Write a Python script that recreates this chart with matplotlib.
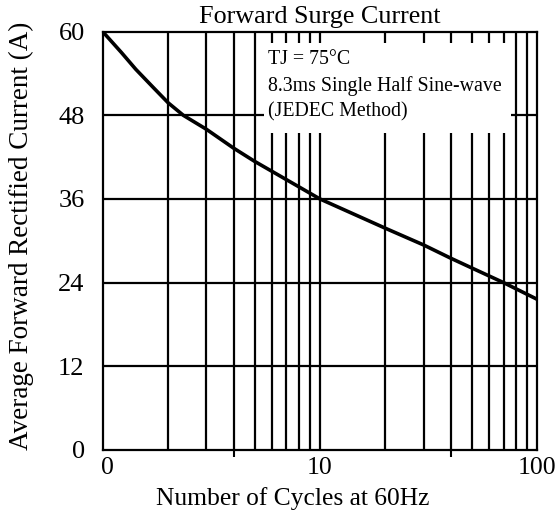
import matplotlib
matplotlib.use("Agg")
import matplotlib.pyplot as plt
import matplotlib.transforms as mtrans
from matplotlib.patches import Rectangle

# Data
cycles = [1, 1.22, 1.42, 1.72, 2, 2.35, 3, 4, 5, 10, 20, 30, 40, 50, 70, 100]
current = [60, 57.0, 54.6, 51.9, 49.8, 48.0, 46.0, 43.3, 41.4, 36.0, 31.8, 29.4, 27.5, 26.1, 24.0, 21.6]

y_ticks = [0, 12, 24, 36, 48, 60]
x_ticks = [1, 10, 100]
x_tick_labels = ["0", "10", "100"]
h_grid = [12, 24, 36, 48]
v_grid = [2, 3, 4, 5, 6, 7, 8, 9, 10, 20, 30, 40, 50, 60, 70, 80, 90]

title = "Forward Surge Current"
xlabel = "Number of Cycles at 60Hz"
ylabel = "Average Forward Rectified Current (A)"
note = "TJ = 75\u00b0C\n8.3ms Single Half Sine-wave\n(JEDEC Method)"

plt.rcParams['font.family'] = ['Liberation Serif', 'DejaVu Serif']

fig = plt.figure(figsize=(5.57, 5.19), dpi=100)
ax = fig.add_axes([0.1844, 0.133, 0.7802, 0.806])

ax.set_xscale('log')
ax.set_xlim(1, 100)
ax.set_ylim(0, 60)

for h in h_grid:
    ax.axhline(h, color='black', lw=1.6, zorder=1)
for v in v_grid:
    ax.axvline(v, color='black', lw=1.6, zorder=1)

# white box behind note
ax.add_patch(Rectangle((0.371, 0.758), 0.5685, 0.215, transform=ax.transAxes,
                       facecolor='white', edgecolor='none', zorder=2))
ax.text(0.381, 0.956, note, transform=ax.transAxes, va='top', ha='left',
        fontsize=14.3, linespacing=1.45, zorder=3)

ax.plot(cycles, current, color='black', lw=2.6, zorder=4,
        solid_capstyle='butt', solid_joinstyle='round')

ax.set_xticks(x_ticks)
ax.set_xticklabels(x_tick_labels)
ax.set_xticks([4, 40], minor=True)
ax.xaxis.set_minor_formatter(matplotlib.ticker.NullFormatter())
ax.tick_params(axis='x', which='major', length=0, pad=5, labelsize=18.5)
ax.tick_params(axis='x', which='minor', length=5, width=1.5, direction='out')
ax.set_yticks(y_ticks)
ax.tick_params(axis='y', length=0, pad=13, labelsize=19)

first = ax.get_xticklabels()[0]
first.set_transform(first.get_transform() + mtrans.ScaledTranslation(5/100, 0, fig.dpi_scale_trans))

for s in ax.spines.values():
    s.set_linewidth(1.6)

ax.set_title(title, fontsize=18.8, pad=6)
ax.set_xlabel(xlabel, fontsize=18.4)
ax.xaxis.set_label_coords(0.437, -0.0885)
ax.set_ylabel(ylabel, fontsize=19.5)
ax.yaxis.set_label_coords(-0.158, 0.5116)

fig.savefig("out.png", dpi=100)
